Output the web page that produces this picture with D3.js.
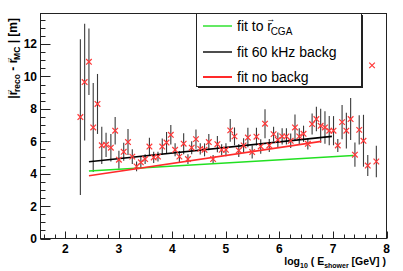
<!DOCTYPE html>
<html>
<head>
<meta charset="utf-8">
<script src="https://cdn.jsdelivr.net/npm/d3@7"></script>
<style>
  body { margin: 0; background: #fff; }
  text { font-family: "Liberation Sans", Arial, sans-serif; }
</style>
</head>
<body>
<script>
// bin centres (log10 E), mean distance and error
var logE = [2.28, 2.36, 2.44, 2.52, 2.60, 2.68, 2.76, 2.85, 2.93, 3.00,
            3.09, 3.17, 3.25, 3.33, 3.41, 3.49, 3.57, 3.65, 3.73, 3.81,
            3.89, 3.97, 4.05, 4.13, 4.21, 4.29, 4.36, 4.44, 4.52, 4.60,
            4.68, 4.76, 4.84, 4.92, 5.00, 5.08, 5.16, 5.24, 5.33, 5.41,
            5.49, 5.57, 5.65, 5.73, 5.81, 5.89, 5.97, 6.05, 6.13, 6.21,
            6.29, 6.37, 6.45, 6.53, 6.61, 6.69, 6.77, 6.85, 6.93, 7.01,
            7.09, 7.17, 7.25, 7.33, 7.41, 7.49, 7.57, 7.65, 7.73, 7.81];
var dist = [7.49, 9.65, 10.9, 6.85, 8.3, 5.75, 5.78, 5.6, 6.65, 4.86,
            5.35, 5.95, 5.05, 4.45, 4.7, 4.9, 5.67, 5.0, 5.05, 5.67,
            5.92, 6.4, 5.47, 5.05, 5.85, 4.9, 5.6, 6.13, 5.53, 5.47,
            5.95, 4.9, 5.82, 5.47, 5.47, 6.67, 6.3, 5.43, 5.74, 6.23,
            5.33, 6.28, 5.68, 7.08, 5.74, 6.44, 6.09, 6.3, 6.3, 6.03,
            6.85, 6.3, 6.46, 5.84, 7.06, 7.37, 6.95, 6.85, 6.65, 6.65,
            5.74, 7.18, 6.65, 7.37, 5.17, 6.7, 6.03, 4.5, 10.68, 4.75];
var distErr = [4.8, 3.6, 2.05, 2.75, 1.85, 1.15, 0.75, 0.85, 0.85, 0.55,
               0.55, 0.8, 0.45, 0.3, 0.35, 0.3, 0.55, 0.35, 0.3, 0.5,
               0.65, 0.6, 0.4, 0.35, 0.65, 0.3, 0.4, 0.6, 0.35, 0.4,
               0.5, 0.25, 0.5, 0.35, 0.4, 0.7, 0.55, 0.4, 0.45, 0.6,
               0.4, 0.55, 0.45, 0.9, 0.4, 0.45, 0.45, 0.5, 0.5, 0.45,
               0.8, 0.5, 0.5, 0.35, 0.65, 0.75, 1.05, 1.0, 0.9, 0.9,
               0.4, 1.05, 1.1, 1.3, 0.75, 0.9, 1.6, 0.65, 0, 0.97];

// straight-line fits: [x0, y0, x1, y1]
var fitNames = ["fit to CGA", "fit 60 kHz backg", "fit no backg"];
var fitColors = ["#22e022", "#000000", "#ff2a2a"];
var fitLines = [[2.44, 4.16, 7.38, 5.12],
                [2.44, 4.73, 6.98, 6.30],
                [2.44, 3.87, 6.78, 5.99]];

var xTicks = [2, 3, 4, 5, 6, 7, 8];
var yTicks = [0, 2, 4, 6, 8, 10, 12];

var w = 403;
var h = 271;
var pl = 40.5, pr = 386.5, pt = 13.5, pb = 238.5;

var svg = d3.select("body")
			.append("svg")
			.attr("width", w)
			.attr("height", h);

var x = d3.scaleLinear().domain([1.535, 8.0]).range([pl, pr]);
var y = d3.scaleLinear().domain([0, 13.88]).range([pb, pt]);

// frame
svg.append("rect")
	.attr("x", pl)
	.attr("y", pt)
	.attr("width", pr - pl)
	.attr("height", pb - pt)
	.attr("fill", "none")
	.attr("stroke", "#222")
	.attr("stroke-width", 1);

// ticks, ROOT style (inside the frame)
var xMinor = d3.range(1.6, 8.0001, 0.2);
svg.selectAll("line.xminor")
	.data(xMinor)
	.enter()
	.append("line")
	.attr("x1", function(d) { return Math.round(x(d)) + 0.5; })
	.attr("x2", function(d) { return Math.round(x(d)) + 0.5; })
	.attr("y1", pb)
	.attr("y2", function(d) {
		return Math.abs(d - Math.round(d)) < 0.01 ? pb - 7 : pb - 4;
	})
	.attr("stroke", "#222");

var yMinor = d3.range(0, 13.9, 0.5);
svg.selectAll("line.yminor")
	.data(yMinor)
	.enter()
	.append("line")
	.attr("y1", function(d) { return Math.round(y(d)) + 0.5; })
	.attr("y2", function(d) { return Math.round(y(d)) + 0.5; })
	.attr("x1", pl)
	.attr("x2", function(d) {
		return d % 2 === 0 ? pl + 10 : pl + 5;
	})
	.attr("stroke", "#222");

svg.selectAll("text.xtick")
	.data(xTicks)
	.enter()
	.append("text")
	.attr("x", function(d) { return x(d); })
	.attr("y", 253)
	.attr("text-anchor", "middle")
	.attr("font-size", "12px")
	.attr("font-weight", "bold")
	.text(function(d) { return d; });

svg.selectAll("text.ytick")
	.data(yTicks)
	.enter()
	.append("text")
	.attr("x", 37)
	.attr("y", function(d) { return y(d) + 4.5; })
	.attr("text-anchor", "end")
	.attr("font-size", "12px")
	.attr("font-weight", "bold")
	.text(function(d) { return d; });

// axis titles
var xt = svg.append("text")
	.attr("x", 386)
	.attr("y", 265)
	.attr("text-anchor", "end")
	.attr("font-size", "10.5px")
	.attr("font-weight", "bold");
xt.append("tspan").text("log");
xt.append("tspan").attr("font-size", "7px").attr("dy", 3).text("10");
xt.append("tspan").attr("dy", -3).text(" ( E");
xt.append("tspan").attr("font-size", "7px").attr("dy", 3).text("shower");
xt.append("tspan").attr("dy", -3).text(" [GeV] )");

// r with a small arrow on top; returns the dx/dy the next piece must use
function vecR(t, size, arrowSize) {
	t.append("tspan").text("r");
	t.append("tspan")
		.attr("font-size", arrowSize + "px")
		.attr("dx", -size * 0.42)
		.attr("dy", -size * 0.62)
		.text("\u2192");
	return [-arrowSize * 0.5, size * 0.62];
}

var yt = svg.append("text")
	.attr("transform", "translate(17,18) rotate(-90)")
	.attr("text-anchor", "end")
	.attr("font-size", "12px")
	.attr("font-weight", "bold");
yt.append("tspan").text("|");
var o = vecR(yt, 12, 7.5);
yt.append("tspan").attr("font-size", "8.5px").attr("dx", o[0]).attr("dy", o[1] + 3).text("reco");
yt.append("tspan").attr("dy", -3).text(" - ");
o = vecR(yt, 12, 7.5);
yt.append("tspan").attr("font-size", "8.5px").attr("dx", o[0]).attr("dy", o[1] + 3).text("MC");
yt.append("tspan").attr("dy", -3).text(" | [m]");

// error bars
var idx = d3.range(logE.length);
svg.selectAll("line.err")
	.data(idx)
	.enter()
	.append("line")
	.attr("x1", function(i) { return x(logE[i]); })
	.attr("x2", function(i) { return x(logE[i]); })
	.attr("y1", function(i) { return y(dist[i] - distErr[i]); })
	.attr("y2", function(i) { return y(dist[i] + distErr[i]); })
	.attr("stroke", "#3a3a3a")
	.attr("stroke-width", 1.1);

// fit lines
svg.selectAll("line.fit")
	.data(fitLines)
	.enter()
	.append("line")
	.attr("x1", function(d) { return x(d[0]); })
	.attr("y1", function(d) { return y(d[1]); })
	.attr("x2", function(d) { return x(d[2]); })
	.attr("y2", function(d) { return y(d[3]); })
	.attr("stroke", function(d, i) { return fitColors[i]; })
	.attr("stroke-width", 1.6);

// markers (x)
var m = 2.8;
var pts = svg.selectAll("g.pt")
	.data(idx)
	.enter()
	.append("g")
	.attr("transform", function(i) {
		return "translate(" + x(logE[i]) + "," + y(dist[i]) + ")";
	});
pts.append("path")
	.attr("d", "M" + (-m) + "," + (-m) + "L" + m + "," + m + "M" + (-m) + "," + m + "L" + m + "," + (-m))
	.attr("stroke", "#ff3838")
	.attr("stroke-width", 1.2)
	.attr("fill", "none");

// legend
var lg = svg.append("g");
lg.append("rect")
	.attr("x", 198).attr("y", 15)
	.attr("width", 165).attr("height", 73)
	.attr("fill", "#222");
lg.append("rect")
	.attr("x", 196.5).attr("y", 13.5)
	.attr("width", 165).attr("height", 73)
	.attr("fill", "#fff")
	.attr("stroke", "#222");

var rows = [26, 52, 77];
lg.selectAll("line.key")
	.data(fitNames)
	.enter()
	.append("line")
	.attr("x1", 203).attr("x2", 232)
	.attr("y1", function(d, i) { return rows[i]; })
	.attr("y2", function(d, i) { return rows[i]; })
	.attr("stroke", function(d, i) { return fitColors[i]; })
	.attr("stroke-width", function(d, i) { return i === 2 ? 2 : 1.4; });

var t0 = lg.append("text")
	.attr("x", 237).attr("y", rows[0] + 5)
	.attr("font-size", "14px");
t0.append("tspan").text("fit to ");
o = vecR(t0, 14, 9);
t0.append("tspan").attr("font-size", "10px").attr("dx", o[0]).attr("dy", o[1] + 4).text("CGA");

lg.selectAll("text.key")
	.data(fitNames.slice(1))
	.enter()
	.append("text")
	.attr("x", 237)
	.attr("y", function(d, i) { return rows[i + 1] + 5; })
	.attr("font-size", "14px")
	.text(function(d) { return d; });
</script>
</body>
</html>
